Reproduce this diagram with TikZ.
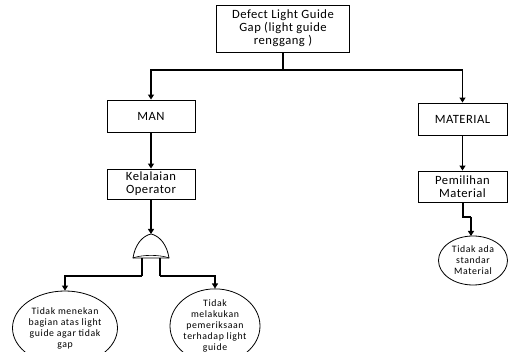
\documentclass[tikz,border=0pt]{standalone}
\usepackage{fontspec}
\setmainfont{Carlito}
\newfontfamily\boxfont[LetterSpace=4]{Carlito}
\newfontfamily\ellfont[LetterSpace=6]{Carlito}
\usetikzlibrary{arrows.meta,shapes.geometric}
\tikzset{
  rectbox/.style={draw, line width=0.9pt, minimum width=88pt, align=center, inner sep=2pt,
     font=\boxfont\fontsize{12.6}{13}\selectfont},
  ellbox/.style={draw, ellipse, line width=0.8pt, align=center, inner sep=0pt,
     font=\ellfont\fontsize{9.8}{11}\selectfont},
  conn/.style={line width=1.1pt},
  arr/.style={conn, -{Triangle[width=6pt,length=5pt]}},
}
\begin{document}
\begin{tikzpicture}[x=1pt,y=-1pt]
\useasboundingbox (0,0) rectangle (514,352);
% top event
\node[rectbox, minimum width=133pt, minimum height=47pt] (top) at (283,28.5)
  {Defect Light Guide\\Gap (light guide\\renggang )};
\node[rectbox, minimum height=32pt] (man) at (151,116) {MAN};
\node[rectbox, minimum width=89pt, minimum height=32pt] (mat) at (462.5,119) {MATERIAL};
\node[rectbox, minimum height=30pt] (kel) at (151,184) {Kelalaian\\Operator};
\node[rectbox, minimum width=89pt, minimum height=31pt] (pem) at (462.5,186.5) {Pemilihan\\Material};
% ellipses
\node[ellbox, minimum width=105pt, minimum height=74pt] (e1) at (65,328)
  {Tidak menekan\\bagian atas light\\guide agar tidak\\gap};
\node[ellbox, minimum width=90pt, minimum height=68pt] (e2) at (215,326)
  {Tidak\\melakukan\\pemeriksaan\\terhadap light\\guide};
\node[ellbox, minimum width=69pt, minimum height=49pt] (e3) at (473,260.5)
  {Tidak ada\\standar\\Material};
% connectors top
\coordinate (split) at (283,70);
\draw[conn] (top.south) -- (split);
\draw[arr] (split) -| (man.north);
\draw[arr] (split) -| (mat.north);
\draw[arr] (man.south) -- (kel.north);
\draw[arr] (mat.south) -- (pem.north);
% OR gate
\coordinate (gapex) at (151,234);
\coordinate (gl) at (133,258);
\coordinate (gr) at (169,258);
\draw[line width=0.8pt] (gl) .. controls (135,245) and (142,236) .. (gapex)
   .. controls (160,236) and (167,245) .. (gr) -- cycle;
\draw[line width=0.6pt] (gl) .. controls (142,254.5) and (160,254.5) .. (gr);
\draw[arr] (kel.south) -- (gapex);
\coordinate (legl) at (142,258);
\coordinate (legr) at (160,258);
\coordinate (legld) at (142,276);
\coordinate (legrd) at (160,276);
\draw[conn] (legl) -- (legld);
\draw[conn] (legr) -- (legrd);
\draw[arr] (legld) -| (e1.north);
\draw[arr] (legrd) -| (e2.north);
% material chain
\coordinate (jog) at (463,217);
\draw[conn] (pem.south -| jog) -- (jog) -- (471,217);
\draw[arr] (471,217) -- (471,236);
\end{tikzpicture}
\end{document}
